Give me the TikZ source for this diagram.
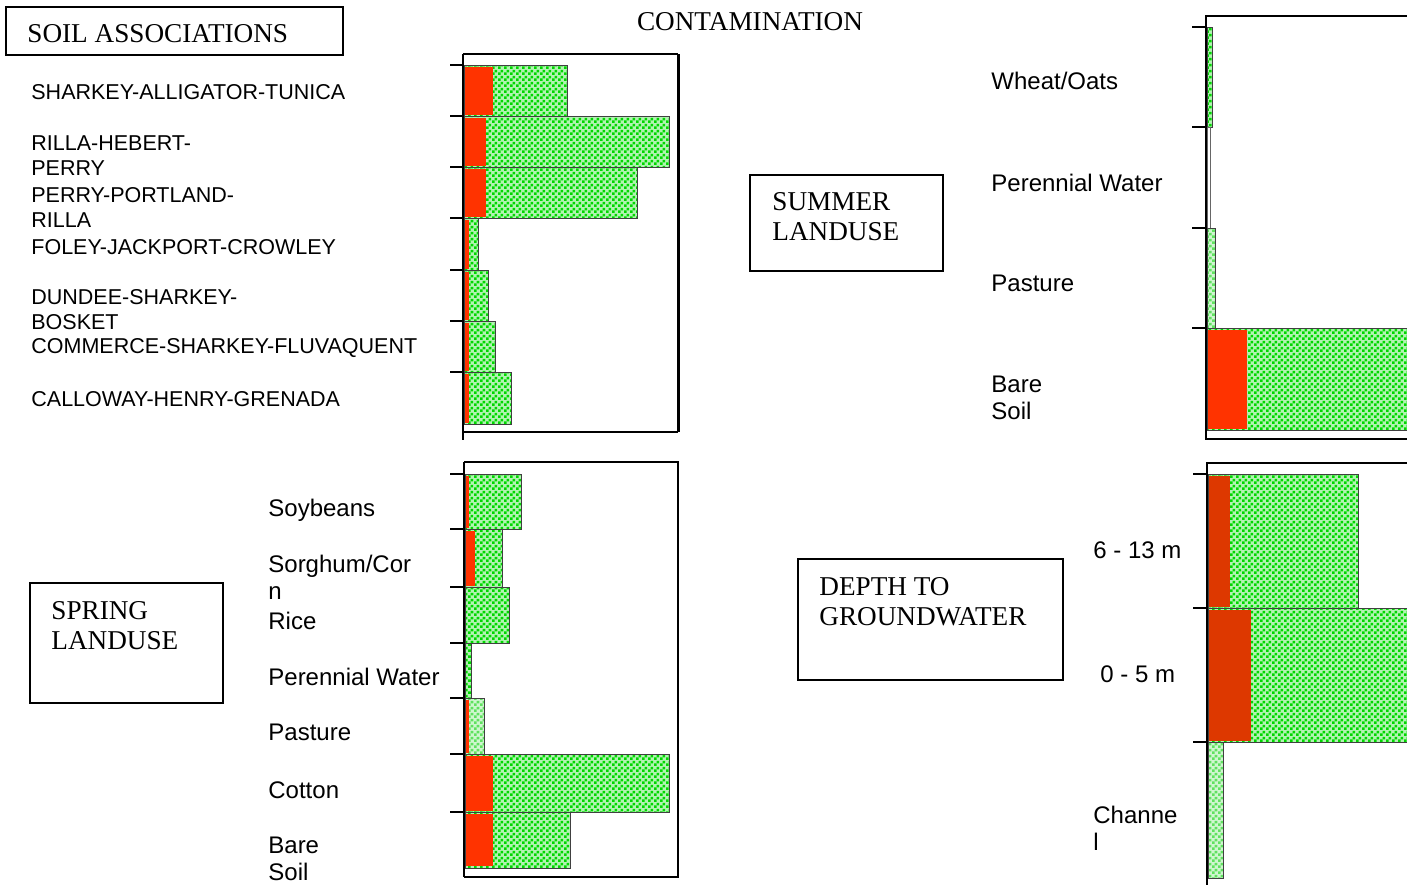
\documentclass[tikz,border=0pt]{standalone}
\usepackage{fontspec}
\setmainfont{Liberation Serif}
\setsansfont{Liberation Sans}
\usetikzlibrary{patterns.meta}

\definecolor{barred}{RGB}{255,51,0}
\definecolor{deepred}{RGB}{221,56,0}
\definecolor{chkgreen}{RGB}{0,215,0}
\definecolor{palegreen}{RGB}{95,225,95}

\tikzdeclarepattern{
  name=chk,
  type=uncolored,
  bounding box={(0pt,0pt) and (3pt,3pt)},
  tile size={(3pt,3pt)},
  code={
    \fill (0pt,0pt) rectangle (1.5pt,1.5pt);
    \fill (1.5pt,1.5pt) rectangle (3pt,3pt);
  }
}

\tikzset{
  headtext/.style={font=\fontsize{13.6}{15}\selectfont, align=left, inner sep=0pt},
  soiltext/.style={font=\sffamily\fontsize{10.75}{12.5}\selectfont, align=left, inner sep=0pt, anchor=west},
  landtext/.style={font=\sffamily\fontsize{12}{13.5}\selectfont, align=left, inner sep=0pt, anchor=west},
  boxline/.style={draw, line width=0.8pt},
  frameline/.style={draw, line width=1pt},
  tick/.style={draw, line width=1pt},
  greenbar/.style={draw=black!75, line width=0.5pt, preaction={fill=chkgreen!30}, pattern=chk, pattern color=chkgreen},
  palebar/.style={draw=black!75, line width=0.5pt, preaction={fill=palegreen!30}, pattern=chk, pattern color=palegreen},
}

\begin{document}
\begin{tikzpicture}[x=0.5pt,y=-0.5pt]
  \clip (0,0) rectangle (1407,885);
  \fill[white] (0,0) rectangle (1407,885);

  % headings
  \node (title) [headtext] at (750,22) {CONTAMINATION};
  \draw[boxline] (6,7) rectangle (343,55);
  \node (soilhead) [headtext, anchor=west] at (27,34) {SOIL ASSOCIATIONS};
  \draw[boxline] (30,583) rectangle (223,703);
  \node (springhead) [headtext, anchor=west] at (51,626) {SPRING\\LANDUSE};
  \draw[boxline] (750,175) rectangle (943,271);
  \node (summerhead) [headtext, anchor=west] at (772,217) {SUMMER\\LANDUSE};
  \draw[boxline] (798,559) rectangle (1063,680);
  \node (depthhead) [headtext, anchor=west] at (819,602) {DEPTH TO\\GROUNDWATER};

  % soil associations
  \begin{scope}[every node/.style={soiltext}]
    \node (sat) at (31,92)    {SHARKEY-ALLIGATOR-TUNICA};
    \node (rhp) at (31,156)   {RILLA-HEBERT-\\PERRY};
    \node (ppr) at (31,207)   {PERRY-PORTLAND-\\RILLA};
    \node (fjc) at (31,247)   {FOLEY-JACKPORT-CROWLEY};
    \node (dsb) at (31,310)   {DUNDEE-SHARKEY-\\BOSKET};
    \node (csf) at (31,348)   {COMMERCE-SHARKEY-FLUVAQUENT};
    \node (chg) at (31,399)   {CALLOWAY-HENRY-GRENADA};
  \end{scope}

  \draw[greenbar] (464,65) rectangle (567,116);
  \fill[barred] (465,67) rectangle (493,115);
  \draw[greenbar] (464,116) rectangle (669,167);
  \fill[barred] (465,118) rectangle (486,166);
  \draw[greenbar] (464,167) rectangle (637,218);
  \fill[barred] (465,169) rectangle (486,217);
  \draw[greenbar] (464,218) rectangle (478,270);
  \fill[barred] (465,220) rectangle (469,269);
  \draw[greenbar] (464,270) rectangle (488,321);
  \fill[barred] (465,272) rectangle (469,320);
  \draw[greenbar] (464,321) rectangle (495,372);
  \fill[barred] (465,323) rectangle (469,371);
  \draw[greenbar] (464,372) rectangle (511,424);
  \fill[barred] (465,374) rectangle (469,423);

  \draw[frameline] (463,54) -- (678,54);
  \draw[frameline, line width=1.5pt] (678,54) -- (678,432);
  \draw[frameline] (678,432) -- (463,432);
  \draw[frameline] (463,54) -- (463,440);
  \foreach \y in {65,116,167,218,270,321,372}
    \draw[tick] (450,\y) -- (463,\y);

  % spring landuse
  \begin{scope}[every node/.style={landtext}]
    \node (soy)  at (268,510) {Soybeans};
    \node (sorg) at (268,577) {Sorghum/Cor\\n};
    \node (rice) at (268,621) {Rice};
    \node (pwsp) at (268,677) {Perennial Water};
    \node (pasp) at (268,732) {Pasture};
    \node (cot)  at (268,790) {Cotton};
    \node (bssp) at (268,859) {Bare\\Soil};
  \end{scope}

  \draw[greenbar] (465,474) rectangle (521,529);
  \fill[barred] (466,476) rectangle (469,528);
  \draw[greenbar] (465,529) rectangle (502,587);
  \fill[barred] (466,531) rectangle (475,586);
  \draw[greenbar] (465,587) rectangle (509,643);
  \draw[greenbar] (465,643) rectangle (471,698);
  \draw[palebar] (465,698) rectangle (484,754);
  \fill[barred] (466,700) rectangle (469,753);
  \draw[greenbar] (465,754) rectangle (669,812);
  \fill[barred] (466,756) rectangle (493,811);
  \draw[greenbar] (465,812) rectangle (570,868);
  \fill[barred] (466,814) rectangle (493,866);

  \draw[frameline] (464,462) -- (678,462) -- (678,877) -- (464,877);
  \draw[frameline] (464,462) -- (464,877);
  \foreach \y in {474,529,587,643,698,754,812}
    \draw[tick] (450,\y) -- (464,\y);

  % summer landuse
  \begin{scope}[every node/.style={landtext}]
    \node (wheat) at (991,81)  {Wheat/Oats};
    \node (pwsu)  at (991,183) {Perennial Water};
    \node (pasu)  at (991,283) {Pasture};
    \node (bssu)  at (991,398) {Bare\\Soil};
  \end{scope}

  \draw[greenbar] (1207,27) rectangle (1212,127);
  \draw[draw=black!60, line width=0.5pt] (1207,127) rectangle (1210,228);
  \draw[palebar] (1207,228) rectangle (1215,328);
  \draw[greenbar] (1207,328) rectangle (1420,430);
  \fill[barred] (1208,330) rectangle (1247,429);

  \draw[frameline] (1420,16) -- (1206,16) -- (1206,439) -- (1420,439);
  \foreach \y in {27,127,228,328}
    \draw[tick] (1192,\y) -- (1206,\y);

  % depth to groundwater
  \begin{scope}[every node/.style={landtext}]
    \node (deep)    at (1093,550) {6 - 13 m};
    \node (shallow) at (1100,674) {0 - 5 m};
    \node (chan)    at (1093,828) {Channe\\l};
  \end{scope}

  \draw[greenbar] (1208,474) rectangle (1358,608);
  \fill[deepred] (1209,476) rectangle (1230,607);
  \draw[greenbar] (1208,608) rectangle (1420,742);
  \fill[deepred] (1209,610) rectangle (1251,741);
  \draw[palebar] (1208,742) rectangle (1223,878);

  \draw[frameline] (1420,463) -- (1207,463) -- (1207,885);
  \foreach \y in {474,608,742}
    \draw[tick] (1193,\y) -- (1207,\y);

\end{tikzpicture}
\end{document}
